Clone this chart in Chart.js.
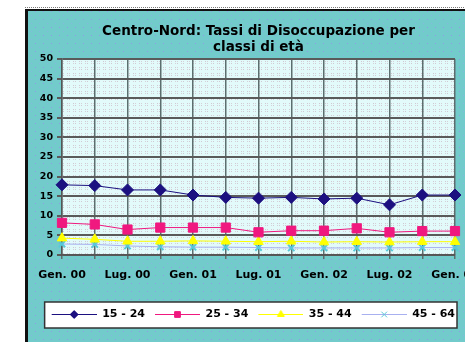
<!DOCTYPE html>
<html lang="it">
<head>
    <meta charset="UTF-8">
    <title>Centro-Nord: Tassi di Disoccupazione</title>
    <script src="https://cdn.jsdelivr.net/npm/chart.js"></script>
    <style>
        html, body { margin: 0; padding: 0; background: #fff; }
        #wrap { width: 465px; height: 342px; }
    </style>
</head>
<body>
    <div id="wrap"><canvas id="chart"></canvas></div>

    <script>
        // quarterly observations, label only on January and July
        const periods = ['Gen. 00', 'Apr. 00', 'Lug. 00', 'Ott. 00', 'Gen. 01', 'Apr. 01', 'Lug. 01',
                         'Ott. 01', 'Gen. 02', 'Apr. 02', 'Lug. 02', 'Ott. 02', 'Gen. 03'];
        const age15_24 = [17.9, 17.7, 16.6, 16.6, 15.3, 14.7, 14.5, 14.7, 14.3, 14.5, 12.8, 15.3, 15.3];
        const age25_34 = [8.2, 7.8, 6.5, 7.0, 7.0, 7.0, 5.8, 6.2, 6.2, 6.8, 5.8, 6.1, 6.1];
        const age35_44 = [4.3, 4.0, 3.5, 3.5, 3.6, 3.5, 3.4, 3.5, 3.3, 3.4, 3.3, 3.4, 3.4];
        const age45_64 = [2.8, 2.7, 2.3, 2.1, 2.0, 2.0, 1.9, 1.8, 1.8, 1.8, 1.8, 1.9, 1.9];
        const seriesNames = ['15 - 24', '25 - 34', '35 - 44', '45 - 64'];
        const yTicks = [0, 5, 10, 15, 20, 25, 30, 35, 40, 45, 50];

        const font = 'DejaVu Sans';

        // background textures
        function makePattern(size, bg, dots) {
            const c = document.createElement('canvas');
            c.width = size; c.height = size;
            const g = c.getContext('2d');
            g.fillStyle = bg;
            g.fillRect(0, 0, size, size);
            dots.forEach(d => { g.fillStyle = d[2]; g.fillRect(d[0], d[1], 1, 1); });
            return c;
        }
        const panelTile = makePattern(8, '#72cbcb', [[3, 3, '#8f9ee6'], [7, 7, '#86b6e0']]);
        const plotTile = makePattern(6, '#e2fafa', [[1, 1, '#d0c8d2'], [3, 3, '#d0c8d2'], [3, 1, '#d6d0d8'], [1, 3, '#d6d0d8']]);

        // legend swatches: left gap, short line, marker in the middle of the line
        function swatch(lineColor, markerColor, style) {
            const c = document.createElement('canvas');
            c.width = 55; c.height = 12;
            const g = c.getContext('2d');
            g.strokeStyle = lineColor;
            g.lineWidth = 1;
            g.beginPath(); g.moveTo(10, 6.5); g.lineTo(55, 6.5); g.stroke();
            g.fillStyle = markerColor;
            g.strokeStyle = markerColor;
            Chart.helpers.drawPoint(g, { pointStyle: style, radius: 4, borderWidth: style === 'crossRot' ? 2 : 1 }, 32.5, 6.5);
            if (style !== 'crossRot') g.fill();
            return c;
        }

        const colors = {
            navy: '#1c1080',
            pink: '#f0187f',
            yellow: '#ffff00',
            lav: '#a8b0f0',
            xMark: '#58c8d8'
        };

        const panelPlugin = {
            id: 'panel',
            beforeDraw(chart) {
                const ctx = chart.ctx;
                const a = chart.chartArea;
                ctx.save();
                ctx.fillStyle = '#fff';
                ctx.fillRect(0, 0, chart.width, chart.height);
                ctx.fillStyle = ctx.createPattern(panelTile, 'repeat');
                ctx.fillRect(26, 9, chart.width - 26, chart.height - 9);
                ctx.fillStyle = '#111';
                ctx.fillRect(25, 9, 3, chart.height - 9);
                ctx.fillRect(25, 9, chart.width - 25, 2);
                ctx.strokeStyle = '#777';
                ctx.setLineDash([1, 1]);
                ctx.beginPath(); ctx.moveTo(25, 7.5); ctx.lineTo(chart.width, 7.5); ctx.stroke();
                ctx.setLineDash([]);
                ctx.fillStyle = ctx.createPattern(plotTile, 'repeat');
                ctx.fillRect(a.left, a.top, a.right - a.left, a.bottom - a.top);
                // white legend frame around the legend items
                const lg = chart.legend;
                if (lg && lg.legendHitBoxes.length) {
                    const boxes = lg.legendHitBoxes;
                    const last = boxes[boxes.length - 1];
                    const x0 = boxes[0].left + 3;
                    const x1 = last.left + last.width + 2;
                    const y0 = boxes[0].top - 6.5;
                    const y1 = boxes[0].top + boxes[0].height + 8.5;
                    ctx.fillStyle = '#fff';
                    ctx.fillRect(x0, y0, x1 - x0, y1 - y0);
                    ctx.strokeStyle = '#333';
                    ctx.lineWidth = 1.5;
                    ctx.strokeRect(x0, y0, x1 - x0, y1 - y0);
                }
                ctx.restore();
            }
        };

        const legendImages = [
            swatch(colors.navy, colors.navy, 'rectRot'),
            swatch(colors.pink, colors.pink, 'rect'),
            swatch(colors.yellow, colors.yellow, 'triangle'),
            swatch(colors.lav, colors.xMark, 'crossRot')
        ];

        const ctx = document.getElementById('chart').getContext('2d');
        new Chart(ctx, {
            type: 'line',
            data: {
                labels: periods,
                datasets: [
                    {
                        label: seriesNames[0], data: age15_24,
                        borderColor: colors.navy, backgroundColor: colors.navy,
                        borderWidth: 1, pointStyle: 'rectRot', pointRadius: 6, pointBorderWidth: 1
                    },
                    {
                        label: seriesNames[1], data: age25_34,
                        borderColor: colors.pink, backgroundColor: colors.pink,
                        borderWidth: 1, pointStyle: 'rect', pointRadius: 6.5, pointBorderWidth: 1
                    },
                    {
                        label: seriesNames[2], data: age35_44,
                        borderColor: colors.yellow, backgroundColor: colors.yellow,
                        borderWidth: 1, pointStyle: 'triangle', pointRadius: 5.5, pointBorderWidth: 1
                    },
                    {
                        label: seriesNames[3], data: age45_64,
                        borderColor: colors.lav, backgroundColor: colors.xMark,
                        pointBorderColor: colors.xMark,
                        borderWidth: 1, pointStyle: 'crossRot', pointRadius: 4.5, pointBorderWidth: 2
                    }
                ]
            },
            options: {
                responsive: true,
                maintainAspectRatio: false,
                animation: false,
                layout: { padding: { left: 30, right: 10, top: 15, bottom: 12.5 } },
                plugins: {
                    title: {
                        display: true,
                        fullSize: false,
                        text: ['Centro-Nord: Tassi di Disoccupazione per', 'classi di età'],
                        color: '#000',
                        font: { family: font, size: 13.5, weight: 'bold', lineHeight: 16 / 13.5 },
                        padding: { top: 8, bottom: 4 }
                    },
                    legend: {
                        position: 'bottom',
                        align: 'end',
                        labels: {
                            usePointStyle: true,
                            pointStyleWidth: 55,
                            padding: 0,
                            color: '#000',
                            font: { family: font, size: 11, weight: 'bold' },
                            generateLabels(chart) {
                                const items = Chart.defaults.plugins.legend.labels.generateLabels(chart);
                                items.forEach((it, i) => { it.pointStyle = legendImages[i]; });
                                return items;
                            }
                        }
                    },
                    tooltip: { enabled: false }
                },
                scales: {
                    x: {
                        offset: false,
                        grid: { color: '#5c6e6e', lineWidth: 1.5, tickLength: 4 },
                        border: { color: '#555', width: 1.5 },
                        ticks: {
                            autoSkip: false, maxRotation: 0, minRotation: 0, padding: 10, color: '#000',
                            font: { family: font, size: 11, weight: 'bold' },
                            callback: (v, i) => (i % 2 === 0 ? periods[i] : '')
                        },
                        afterFit(scale) {
                            scale.height = 53.5;
                            scale.paddingLeft = 0;
                            scale.paddingRight = 0;
                        }
                    },
                    y: {
                        min: 0, max: 50,
                        afterBuildTicks(scale) { scale.ticks = yTicks.map(v => ({ value: v })); },
                        grid: { color: '#5a5a5a', lineWidth: 2, tickLength: 5 },
                        border: { color: '#555', width: 1.5 },
                        ticks: {
                            padding: 4, color: '#000',
                            font: { family: font, size: 9.5, weight: 'bold' }
                        },
                        afterFit(scale) { scale.width = 32; }
                    }
                }
            },
            plugins: [panelPlugin]
        });
    </script>
</body>
</html>
